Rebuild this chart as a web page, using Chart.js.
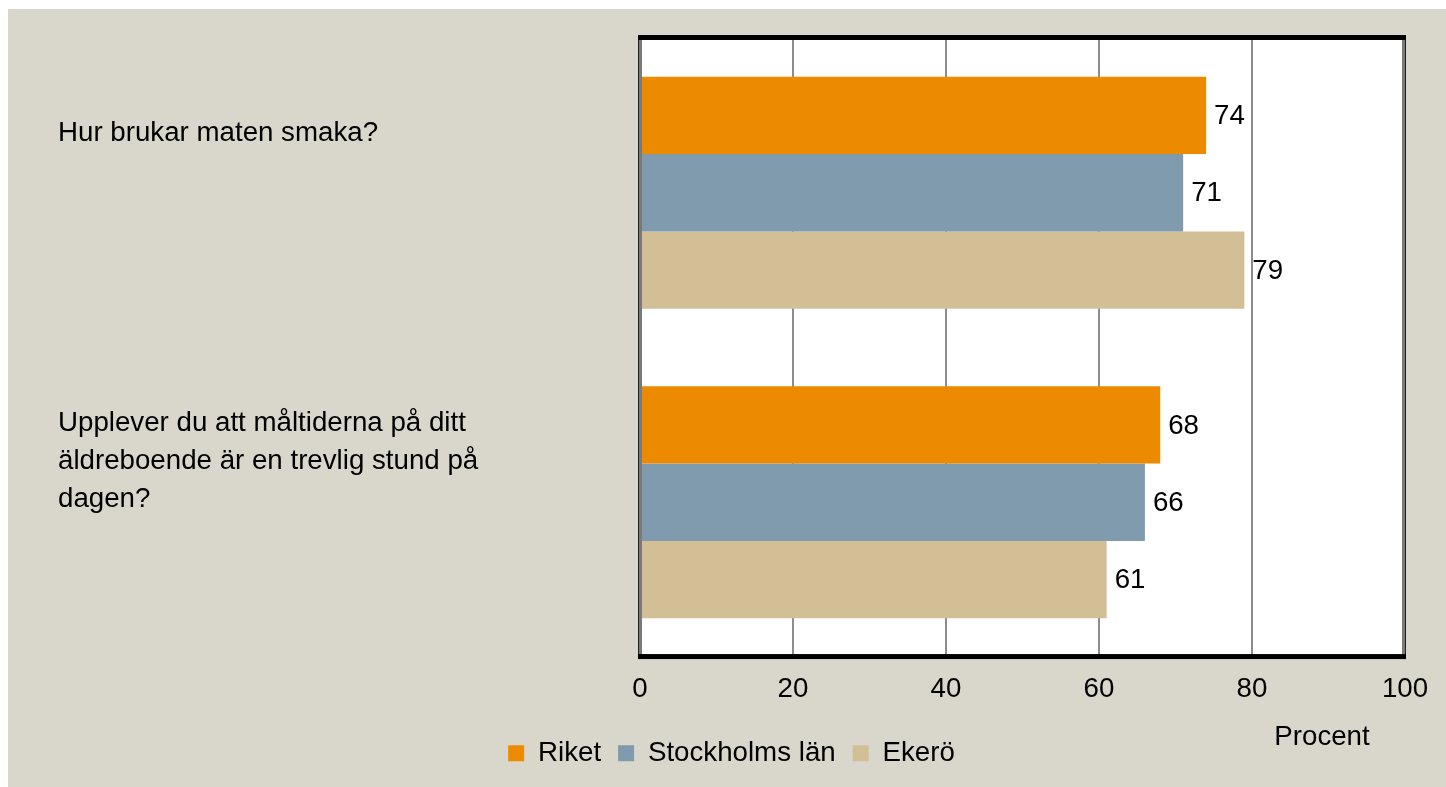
<!DOCTYPE html>
<html>
<head>
<meta charset="utf-8">
<script src="https://cdn.jsdelivr.net/npm/chart.js@4.4.1/dist/chart.umd.min.js"></script>
<style>
  html, body { margin: 0; padding: 0; background: #ffffff; }
  #wrap { position: absolute; left: 8px; top: 9px; width: 1438px; height: 778px; background: #d9d7cb; }
</style>
</head>
<body>
<div id="wrap"><canvas id="chart"></canvas></div>
<script>
// questions (y axis categories)
const questions = [
    ['Hur brukar maten smaka?', ''],
    ['Upplever du att måltiderna på ditt', 'äldreboende är en trevlig stund på', 'dagen?']
];
const seriesNames = ['Riket', 'Stockholms län', 'Ekerö'];
const riket = [74, 68];
const stockholm = [71, 66];
const ekero = [79, 61];
const seriesColors = ['#ec8b00', '#7f9bad', '#d3bf96'];
const xTicks = [0, 20, 40, 60, 80, 100];
const axisTitle = 'Procent';

const FONT = "'Liberation Sans', Arial, sans-serif";
const FS = 27.7;

// white plot area
const plotBg = {
    id: 'plotBg',
    beforeDraw(chart) {
        const { ctx, chartArea: a } = chart;
        ctx.save();
        ctx.fillStyle = '#ffffff';
        ctx.fillRect(a.left, a.top, a.right - a.left, a.bottom - a.top);
        ctx.restore();
    }
};

// numbers at the end of each bar
const valueLabels = {
    id: 'valueLabels',
    afterDatasetsDraw(chart) {
        const ctx = chart.ctx;
        ctx.save();
        ctx.font = FS + 'px ' + FONT;
        ctx.fillStyle = '#000';
        ctx.textAlign = 'left';
        ctx.textBaseline = 'middle';
        chart.data.datasets.forEach((ds, i) => {
            chart.getDatasetMeta(i).data.forEach((bar, j) => {
                ctx.fillText(ds.data[j], bar.x + 8, bar.y + 1);
            });
        });
        ctx.restore();
    }
};

// plot frame + axis title
const frame = {
    id: 'frame',
    afterDraw(chart) {
        const { ctx, chartArea: a } = chart;
        ctx.save();
        // left / right grey edges
        ctx.fillStyle = '#7a7a7a';
        ctx.fillRect(a.left - 2, a.top - 2, 4, a.bottom - a.top + 4);
        ctx.fillRect(a.right - 3, a.top - 2, 4, a.bottom - a.top + 4);
        ctx.fillStyle = '#222';
        ctx.fillRect(a.left - 2, a.top - 2, 1, a.bottom - a.top + 4);
        ctx.fillRect(a.right, a.top - 2, 1, a.bottom - a.top + 4);
        // top / bottom black edges
        ctx.fillStyle = '#000';
        ctx.fillRect(a.left - 2, a.top - 3, a.right - a.left + 3, 5);
        ctx.fillRect(a.left - 2, a.bottom - 3, a.right - a.left + 3, 5);

        ctx.font = FS + 'px ' + FONT;
        ctx.fillStyle = '#000';
        ctx.textAlign = 'center';
        ctx.textBaseline = 'middle';
        ctx.fillText(axisTitle, a.right - 83, a.bottom + 80);
        ctx.restore();
    }
};

new Chart(document.getElementById('chart'), {
    type: 'bar',
    data: {
        labels: questions,
        datasets: [
            { label: seriesNames[0], data: riket, backgroundColor: seriesColors[0] },
            { label: seriesNames[1], data: stockholm, backgroundColor: seriesColors[1] },
            { label: seriesNames[2], data: ekero, backgroundColor: seriesColors[2] }
        ]
    },
    options: {
        indexAxis: 'y',
        responsive: true,
        maintainAspectRatio: false,
        animation: false,
        categoryPercentage: 0.75,
        barPercentage: 1,
        layout: { padding: { left: 50, right: 41, top: 29, bottom: 10 } },
        scales: {
            x: {
                min: 0,
                max: 100,
                afterBuildTicks: s => { s.ticks = xTicks.map(v => ({ value: v })); },
                grid: { color: '#8c8c8c', lineWidth: 2, drawTicks: false },
                border: { display: false },
                ticks: { color: '#000', padding: 16, font: { family: FONT, size: FS } }
            },
            y: {
                grid: { display: false },
                border: { display: false },
                afterFit: s => { s.width = 582; s.paddingTop = 0; s.paddingBottom = 0; },
                ticks: {
                    color: '#000',
                    crossAlign: 'far',
                    labelOffset: -41,
                    font: { family: FONT, size: FS, lineHeight: 1.36 }
                }
            }
        },
        plugins: {
            tooltip: { enabled: false },
            legend: {
                position: 'bottom',
                labels: {
                    color: '#000',
                    boxWidth: 16,
                    boxHeight: 16,
                    padding: 17,
                    font: { family: FONT, size: FS }
                }
            }
        }
    },
    plugins: [plotBg, valueLabels, frame]
});
</script>
</body>
</html>
